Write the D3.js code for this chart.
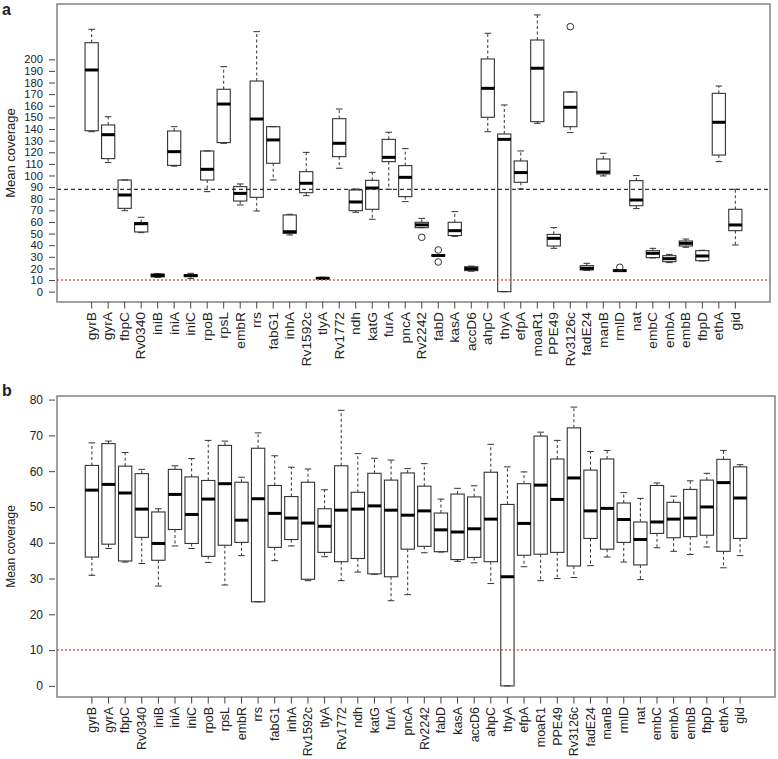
<!DOCTYPE html>
<html><head><meta charset="utf-8">
<script src="https://cdn.jsdelivr.net/npm/d3@7"></script>
<style>
body{margin:0;background:#fff}
svg{display:block}
text{font-family:"Liberation Sans",Arial,Helvetica,sans-serif;fill:#222}
</style>
</head><body>
<svg id="chart" width="778" height="759"></svg>
<script>
// ---------------- DATA ----------------
const genes = ["gyrB","gyrA","fbpC","Rv0340","iniB","iniA","iniC","rpoB","rpsL","embR",
  "rrs","fabG1","inhA","Rv1592c","tlyA","Rv1772","ndh","katG","furA","pncA",
  "Rv2242","fabD","kasA","accD6","ahpC","thyA","efpA","moaR1","PPE49","Rv3126c",
  "fadE24","manB","rmlD","nat","embC","embA","embB","fbpD","ethA","gid"];

// Panel a (five-number summaries per gene)
const aLow  = [137.7,111.1,69.7,50.8,12.2,108.0,11.2,86.1,127.7,74.6,
  69.4,96.1,48.8,82.6,10.5,106.2,68.3,62.3,88.1,77.5,
  55.1,30.6,47.6,17.6,137.7,0,88.4,144.9,37.3,136.9,
  18.3,99.6,17.6,71.5,29.0,25.0,38.2,26.4,111.9,40.2];
const aQ1   = [138.5,114.5,71.7,51.4,12.7,108.7,13.0,96.1,128.3,78.0,
  81.2,110.5,50.2,85.2,11.0,116.2,69.7,70.9,111.9,81.8,
  55.1,30.8,48.3,18.1,150.1,0,94.1,146.3,39.3,142.0,
  18.7,101.3,17.8,74.0,29.3,25.8,39.3,26.7,117.6,52.5];
const aMed  = [190.8,135.1,83.2,58.5,14.0,120.5,13.8,105.3,161.5,84.6,
  148.6,130.6,51.6,93.3,11.5,127.7,77.2,89.2,115.6,98.4,
  57.5,31.1,52.5,19.8,175.0,131.1,102.5,192.3,45.9,158.7,
  20.1,102.9,18.1,78.9,33.0,28.4,41.6,30.7,145.8,57.4];
const aQ3   = [214.3,143.5,96.1,59.4,15.2,138.3,14.6,121.1,174.2,90.4,
  181.3,142.0,66.0,103.3,12.0,148.9,87.5,95.8,131.1,108.5,
  59.7,31.5,59.7,21.5,200.3,135.7,112.5,216.6,49.3,171.9,
  22.4,114.2,18.4,95.6,35.3,31.0,43.6,35.3,170.7,70.9];
const aHigh = [225.8,150.6,96.1,64.0,15.6,142.0,15.8,121.1,193.7,92.7,
  223.8,142.0,66.6,119.9,12.5,157.2,88.4,102.7,137.2,123.1,
  63.1,31.7,68.9,22.0,222.4,160.7,121.1,238.2,55.1,171.9,
  24.4,119.1,18.6,99.9,37.3,32.1,45.3,35.6,177.0,88.1];
const aOutGenes  = ["Rv2242","fabD","fabD","Rv3126c","rmlD"];
const aOutValues = [46.8,35.9,25.5,228.1,21.0];
const aTicks = [0,10,20,30,40,50,60,70,80,90,100,110,120,130,140,150,160,170,180,190,200];
const aMeanLine = 88;
const cutoffLine = 10;

// Panel b
const bLow  = [30.9,38.4,34.6,34.2,27.9,39.1,38.4,34.5,28.2,36.4,
  23.5,35.0,39.1,29.4,36.1,29.4,31.8,31.2,23.8,25.5,
  37.2,37.4,34.8,34.4,28.6,0,33.3,29.4,30.0,30.3,
  33.6,36.0,34.6,29.7,38.6,37.6,36.7,38.8,33.0,36.4];
const bQ1   = [36.0,39.6,34.9,41.5,35.1,43.7,39.8,36.2,39.3,40.1,
  23.5,38.7,40.9,29.8,37.3,34.7,35.6,31.3,30.5,38.2,
  39.0,37.5,35.3,35.9,34.7,0,36.5,36.8,37.3,33.5,
  41.2,38.2,40.1,33.8,42.6,41.4,41.7,42.1,37.6,41.2];
const bMed  = [54.7,56.3,53.9,49.4,39.8,53.5,47.9,52.2,56.5,46.3,
  52.3,48.2,46.9,45.5,44.6,49.1,49.4,50.3,49.1,47.7,
  48.9,43.6,43.0,43.9,46.6,30.5,45.4,56.1,52.1,58.1,
  48.9,49.6,46.5,40.9,45.8,46.6,46.9,50.0,56.8,52.5];
const bQ3   = [61.6,67.7,61.4,59.3,48.6,60.5,58.4,57.4,67.2,56.9,
  66.4,56.0,52.9,56.9,49.5,61.5,54.1,59.4,57.5,59.5,
  55.8,48.3,53.6,52.8,59.7,50.7,56.5,69.8,63.4,72.1,
  60.3,63.4,51.1,45.8,56.0,51.3,54.9,57.5,63.3,61.2];
const bHigh = [67.9,68.4,65.2,60.5,49.5,61.5,63.5,68.6,68.4,58.3,
  70.7,64.3,61.1,60.6,54.8,77.0,64.9,63.6,63.1,60.7,
  62.1,52.2,55.2,55.9,67.5,61.2,59.8,70.9,68.6,77.9,
  65.5,65.8,54.0,52.4,56.7,53.0,57.3,59.4,65.8,61.8];
const bTicks = [0,10,20,30,40,50,60,70,80];

// ---------------- DRAW ----------------
const svg = d3.select("#chart");

function panel(o) {
  const g = svg.append("g");
  const x = d3.scaleBand().domain(genes).range([o.left, o.right])
      .paddingInner(0.2).paddingOuter(1.7);
  const y = d3.scaleLinear().domain(o.ydom).range([o.bottom, o.top]);
  const bw = x.bandwidth();
  const cx = gname => x(gname) + bw / 2;

  const data = genes.map((gname, i) => ({g: gname, lo: o.low[i], q1: o.q1[i], med: o.med[i], q3: o.q3[i], hi: o.high[i]}));
  const bx = g.append("g").selectAll("g").data(data).join("g");
  // whiskers (dashed)
  bx.append("line").attr("x1", d => cx(d.g)).attr("x2", d => cx(d.g))
    .attr("y1", d => y(d.q3)).attr("y2", d => y(d.hi))
    .attr("stroke", "#333").attr("stroke-width", 1).attr("stroke-dasharray", "3,2.5");
  bx.append("line").attr("x1", d => cx(d.g)).attr("x2", d => cx(d.g))
    .attr("y1", d => y(d.q1)).attr("y2", d => y(d.lo))
    .attr("stroke", "#333").attr("stroke-width", 1).attr("stroke-dasharray", "3,2.5");
  // staples
  ["hi", "lo"].forEach(k => {
    bx.append("line").attr("x1", d => cx(d.g) - bw / 4).attr("x2", d => cx(d.g) + bw / 4)
      .attr("y1", d => y(d[k])).attr("y2", d => y(d[k]))
      .attr("stroke", "#333").attr("stroke-width", 1);
  });
  // box
  bx.append("rect").attr("x", d => x(d.g)).attr("width", bw)
    .attr("y", d => y(d.q3)).attr("height", d => Math.max(0, y(d.q1) - y(d.q3)))
    .attr("fill", "none").attr("stroke", "#333").attr("stroke-width", 1.1);
  // median
  bx.append("line").attr("x1", d => x(d.g)).attr("x2", d => x(d.g) + bw)
    .attr("y1", d => y(d.med)).attr("y2", d => y(d.med))
    .attr("stroke", "#000").attr("stroke-width", 3);

  // outliers
  if (o.outG) {
    g.append("g").selectAll("circle").data(o.outG.map((gn, i) => ({g: gn, v: o.outV[i]})))
      .join("circle").attr("cx", d => cx(d.g)).attr("cy", d => y(d.v)).attr("r", 3.3)
      .attr("fill", "none").attr("stroke", "#333").attr("stroke-width", 1);
  }

  // reference lines
  if (o.meanLine != null) {
    g.append("line").attr("x1", o.left).attr("x2", o.right)
      .attr("y1", y(o.meanLine)).attr("y2", y(o.meanLine))
      .attr("stroke", "#333").attr("stroke-width", 1.2).attr("stroke-dasharray", "4,3");
  }
  g.append("line").attr("x1", o.left).attr("x2", o.right)
    .attr("y1", y(cutoffLine)).attr("y2", y(cutoffLine))
    .attr("stroke", "#e05a5a").attr("stroke-width", 1.5).attr("stroke-dasharray", "2,2");

  // frame
  g.append("rect").attr("x", o.left).attr("y", o.top)
    .attr("width", o.right - o.left).attr("height", o.bottom - o.top)
    .attr("fill", "none").attr("stroke", "#7a7a7a").attr("stroke-width", 1.4);

  // y axis
  const ya = g.append("g").attr("transform", `translate(${o.left - 2},0)`)
    .call(d3.axisLeft(y).tickValues(o.ticks).tickSize(6).tickPadding(6).tickFormat(d3.format("d")));
  ya.select(".domain").remove();
  ya.selectAll(".tick line").attr("stroke", "#444");
  ya.selectAll(".tick text").attr("font-size", o.yTickSize).attr("fill", "#222")
    .attr("font-family", '"Liberation Sans",Arial,sans-serif');

  // x axis
  const xa = g.append("g").attr("transform", `translate(0,${o.bottom})`)
    .call(d3.axisBottom(x).tickSize(6.5));
  xa.select(".domain").remove();
  xa.selectAll(".tick line").attr("stroke", "#444");
  const sx = o.labelStretch;
  xa.selectAll(".tick text").attr("font-size", 12).attr("fill", "#222")
    .attr("font-family", '"Liberation Sans",Arial,sans-serif')
    .attr("text-anchor", "end")
    .attr("transform", `rotate(-90) scale(${sx},1)`)
    .attr("x", -10 / sx).attr("y", 0).attr("dy", "0.36em");

  // y title
  g.append("text").attr("transform", `translate(15,${(o.top + o.bottom) / 2}) rotate(-90)`)
    .attr("text-anchor", "middle").attr("font-size", o.titleSize).text("Mean coverage");

  // panel letter
  g.append("text").attr("x", 2).attr("y", o.letterY).attr("font-size", 16)
    .attr("font-weight", "bold").attr("fill", "#000").text(o.letter);
}

panel({left: 57, right: 770, top: 4, bottom: 302, ydom: [-8.9, 247.6],
  low: aLow, q1: aQ1, med: aMed, q3: aQ3, high: aHigh,
  outG: aOutGenes, outV: aOutValues, ticks: aTicks, meanLine: aMeanLine,
  letter: "a", letterY: 15, titleSize: 13, yTickSize: 11.2, labelStretch: 1.15});

panel({left: 57, right: 775, top: 396, bottom: 697, ydom: [-3.1, 81.0],
  low: bLow, q1: bQ1, med: bMed, q3: bQ3, high: bHigh,
  ticks: bTicks, meanLine: null, letter: "b", letterY: 396, titleSize: 12,
  yTickSize: 12, labelStretch: 1.04});
</script>
</body></html>
